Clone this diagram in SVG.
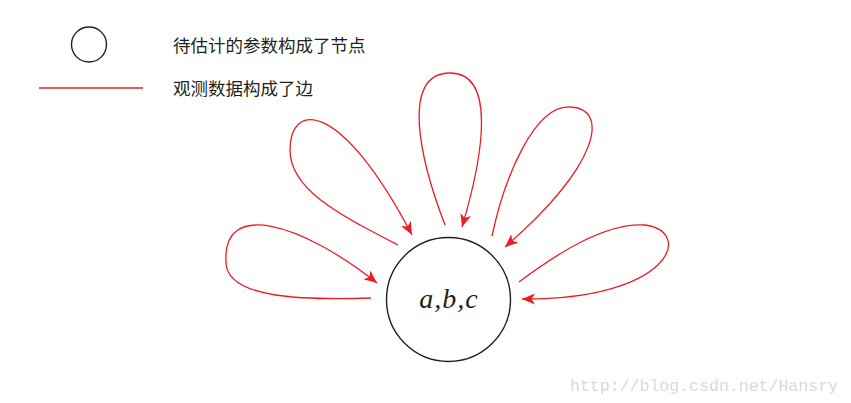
<svg xmlns="http://www.w3.org/2000/svg" width="851" height="403" viewBox="0 0 851 403">
<defs>
<style>
.node{fill:none;stroke:#231f20;stroke-width:1.4}
.edge{fill:none;stroke:#ed1c24;stroke-width:1.3}
.cjk{font-family:"Noto Sans CJK SC","Noto Sans",sans-serif;font-size:17.5px;fill:#231f20}
.math{font-family:"Liberation Serif",serif;font-style:italic;font-size:28px;fill:#231f20}
.wm{font-family:"Liberation Mono",monospace;font-size:17px;fill:#dadad6}
</style>
<marker id="arr" viewBox="-14 -7 15 14" refX="0" refY="0" markerWidth="15" markerHeight="14" orient="auto" markerUnits="userSpaceOnUse">
<path d="M0,0 L-13,-5.5 L-9.5,0 L-13,5.5 Z" fill="#ed1c24"/>
</marker>
</defs>
<rect width="851" height="403" fill="#ffffff"/>
<g id="legend">
<circle class="node" cx="89" cy="44.5" r="17.5"/>
<line x1="39" y1="88" x2="143" y2="88" class="edge"/>
<text class="cjk" x="173" y="51.5">待估计的参数构成了节点</text>
<text class="cjk" x="173" y="94.5">观测数据构成了边</text>
</g>
<g id="edges">
<path class="edge" marker-end="url(#arr)" d="M371,298 C310,300 226,300 226,262 C222,200 300,222 377,283"/>
<path class="edge" marker-end="url(#arr)" d="M398,245 C340,215 290,190 290,150 C290,102 340,98 412,235"/>
<path class="edge" marker-end="url(#arr)" d="M445,225 C420,160 400,73 450,73 C495,73 485,150 462,227"/>
<path class="edge" marker-end="url(#arr)" d="M492,236 C505,175 535,105 570,107 C610,108 600,165 505,247"/>
<path class="edge" marker-end="url(#arr)" d="M519,282 C555,255 605,222 645,225 C695,232 670,300 522,299"/>
</g>
<g id="node-abc">
<circle class="node" cx="448.5" cy="299.5" r="62"/>
<text class="math" x="449" y="308" text-anchor="middle" letter-spacing="1">a,b,c</text>
</g>
<text class="wm" x="570" y="391" textLength="268" lengthAdjust="spacingAndGlyphs">http://blog.csdn.net/Hansry</text>
</svg>
